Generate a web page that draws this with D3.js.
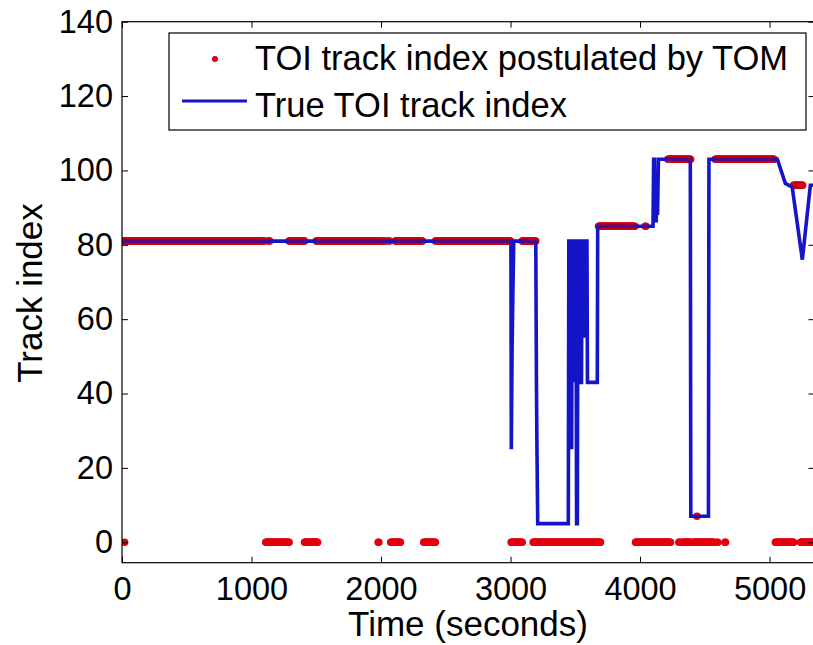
<!DOCTYPE html>
<html><head><meta charset="utf-8">
<script src="https://cdn.jsdelivr.net/npm/d3@7"></script>
<style>
html,body{margin:0;padding:0;background:#fff;}
svg{display:block;font-family:"Liberation Sans",Arial,sans-serif;}
</style></head>
<body>
<svg id="chart" width="813" height="645"></svg>
<script>
// ---- data ----
const xTicks = [0, 1000, 2000, 3000, 4000, 5000];
const yTicks = [0, 20, 40, 60, 80, 100, 120, 140];
const xLabel = "Time (seconds)";
const yLabel = "Track index";
const legendLabels = ["TOI track index postulated by TOM", "True TOI track index"];

// True TOI track index (time, index)
const trueTime = [0, 3003, 3006, 3012, 3018, 3025, 3195, 3200, 3204, 3210, 3446, 3450, 3468, 3472, 3476, 3484, 3488, 3492, 3505, 3510, 3516, 3520, 3536, 3540, 3548, 3552, 3560, 3565, 3570, 3590, 3594, 3670, 3673, 4100, 4105, 4112, 4115, 4120, 4125, 4130, 4135, 4142, 4388, 4392, 4528, 4532, 5060, 5122, 5175, 5253, 5315, 5400];
const trueIndex = [81, 81, 25, 52, 67, 81, 81, 43, 25, 5, 5, 81, 81, 25, 81, 81, 43, 81, 81, 5, 5, 81, 81, 43, 43, 81, 81, 55, 81, 81, 43, 43, 85, 85, 103, 103, 88, 99, 86, 99, 88, 103, 103, 7, 7, 103, 103, 96.5, 95.5, 76, 96, 96];

// Postulated index: runs of samples (start time, end time, index)
const redRunStart = [0, 20, 1095, 1110, 1130, 1290, 1410, 1500, 1978, 2030, 2060, 2075, 2110, 2330, 2420, 3005, 3090, 3175, 3680, 3965, 4040, 4215, 4300, 4330, 4410, 4440, 4580, 4595, 4655, 5045, 5185, 5240];
const redRunEnd   = [1085, 20, 1100, 1290, 1140, 1410, 1510, 2010, 1984, 2035, 2065, 2150, 2320, 2420, 3000, 3090, 3195, 3695, 3960, 4235, 4045, 4390, 4310, 4390, 4570, 4444, 5035, 4600, 4660, 5185, 5255, 5400];
const redRunValue = [81, 0, 81, 0, 81, 81, 0, 81, 0, 81, 81, 0, 81, 0, 81, 0, 81, 0, 85, 0, 85, 103, 0, 0, 0, 7, 103, 0, 0, 0, 96, 0];

// ---- layout ----
const svg = d3.select("#chart");
const L = 122, R = 814.5, T = 21.7, B = 562.7;
const x = d3.scaleLinear().domain([0, 5347]).range([L, R]);
const y = d3.scaleLinear().domain([-5.5, 140]).range([B, T]);

const red = "#e3000f", blue = "#1414c8";

svg.append("defs").append("clipPath").attr("id", "clip")
  .append("rect").attr("x", L).attr("y", T).attr("width", R - L).attr("height", B - T);

// build samples
const redPts = [];
redRunStart.forEach((s, i) => {
  const e = redRunEnd[i];
  for (let t = s; t <= e; t += 5) redPts.push({t: t, v: redRunValue[i]});
});
const trueData = trueTime.map((t, i) => ({t: t, v: trueIndex[i]}));

const plot = svg.append("g").attr("clip-path", "url(#clip)");
plot.selectAll("circle.r").data(redPts).enter().append("circle")
  .attr("cx", d => x(d.t)).attr("cy", d => y(d.v)).attr("r", 3.8)
  .attr("fill", red);

plot.append("path").datum(trueData)
  .attr("d", d3.line().x(d => x(d.t)).y(d => y(d.v)))
  .attr("fill", "none").attr("stroke", blue).attr("stroke-width", 3.6)
  .attr("stroke-linejoin", "miter");

// tint overlap (dots drawn again faintly above line)
plot.selectAll("circle.o").data(redPts.filter(d => d.v > 0)).enter().append("circle")
  .attr("cx", d => x(d.t)).attr("cy", d => y(d.v)).attr("r", 3.8)
  .attr("fill", "#b0002a").attr("fill-opacity", 0.05);

// ---- axes ----
const fs = 32.5;
const gx = svg.append("g").attr("transform", `translate(0,${B})`)
  .call(d3.axisBottom(x).tickValues(xTicks).tickSizeInner(-6).tickSizeOuter(0).tickPadding(14).tickFormat(d3.format("d")));
const gy = svg.append("g").attr("transform", `translate(${L},0)`)
  .call(d3.axisLeft(y).tickValues(yTicks).tickSizeInner(-6).tickSizeOuter(0).tickPadding(9).tickFormat(d3.format("d")));
const gt = svg.append("g").attr("transform", `translate(0,${T})`)
  .call(d3.axisTop(x).tickValues(xTicks).tickSizeInner(-6).tickSizeOuter(0).tickFormat(""));
const gr = svg.append("g").attr("transform", `translate(${R},0)`)
  .call(d3.axisRight(y).tickValues(yTicks).tickSizeInner(-6).tickSizeOuter(0).tickFormat(""));
[gx, gy, gt, gr].forEach(g => {
  g.select(".domain").remove();
  g.selectAll(".tick line").attr("stroke", "#000").attr("stroke-width", 1);
  g.selectAll("text").attr("fill", "#000").attr("font-size", fs).attr("font-family", "Liberation Sans, Arial, sans-serif");
});
gx.selectAll("text").attr("dy", "0.71em");
svg.append("rect").attr("x", L).attr("y", T).attr("width", R - L).attr("height", B - T)
  .attr("fill", "none").attr("stroke", "#000").attr("stroke-width", 1.2);

// labels
svg.append("text").attr("x", 468).attr("y", 636).attr("text-anchor", "middle")
  .attr("font-size", 35).attr("fill", "#000").text(xLabel);
svg.append("text").attr("transform", "translate(42,293) rotate(-90)").attr("text-anchor", "middle")
  .attr("font-size", 35).attr("fill", "#000").text(yLabel);

// ---- legend ----
const lg = svg.append("g");
lg.append("rect").attr("x", 169).attr("y", 33).attr("width", 637).attr("height", 97)
  .attr("fill", "#fff").attr("stroke", "#000").attr("stroke-width", 1.2);
lg.append("circle").attr("cx", 215).attr("cy", 59).attr("r", 3).attr("fill", red);
lg.append("line").attr("x1", 182).attr("x2", 247).attr("y1", 101).attr("y2", 101)
  .attr("stroke", blue).attr("stroke-width", 3);
lg.append("text").attr("x", 255).attr("y", 70).attr("font-size", 34.5).attr("fill", "#000").text(legendLabels[0]);
lg.append("text").attr("x", 255).attr("y", 117).attr("font-size", 34.5).attr("fill", "#000").text(legendLabels[1]);
</script>
</body></html>
